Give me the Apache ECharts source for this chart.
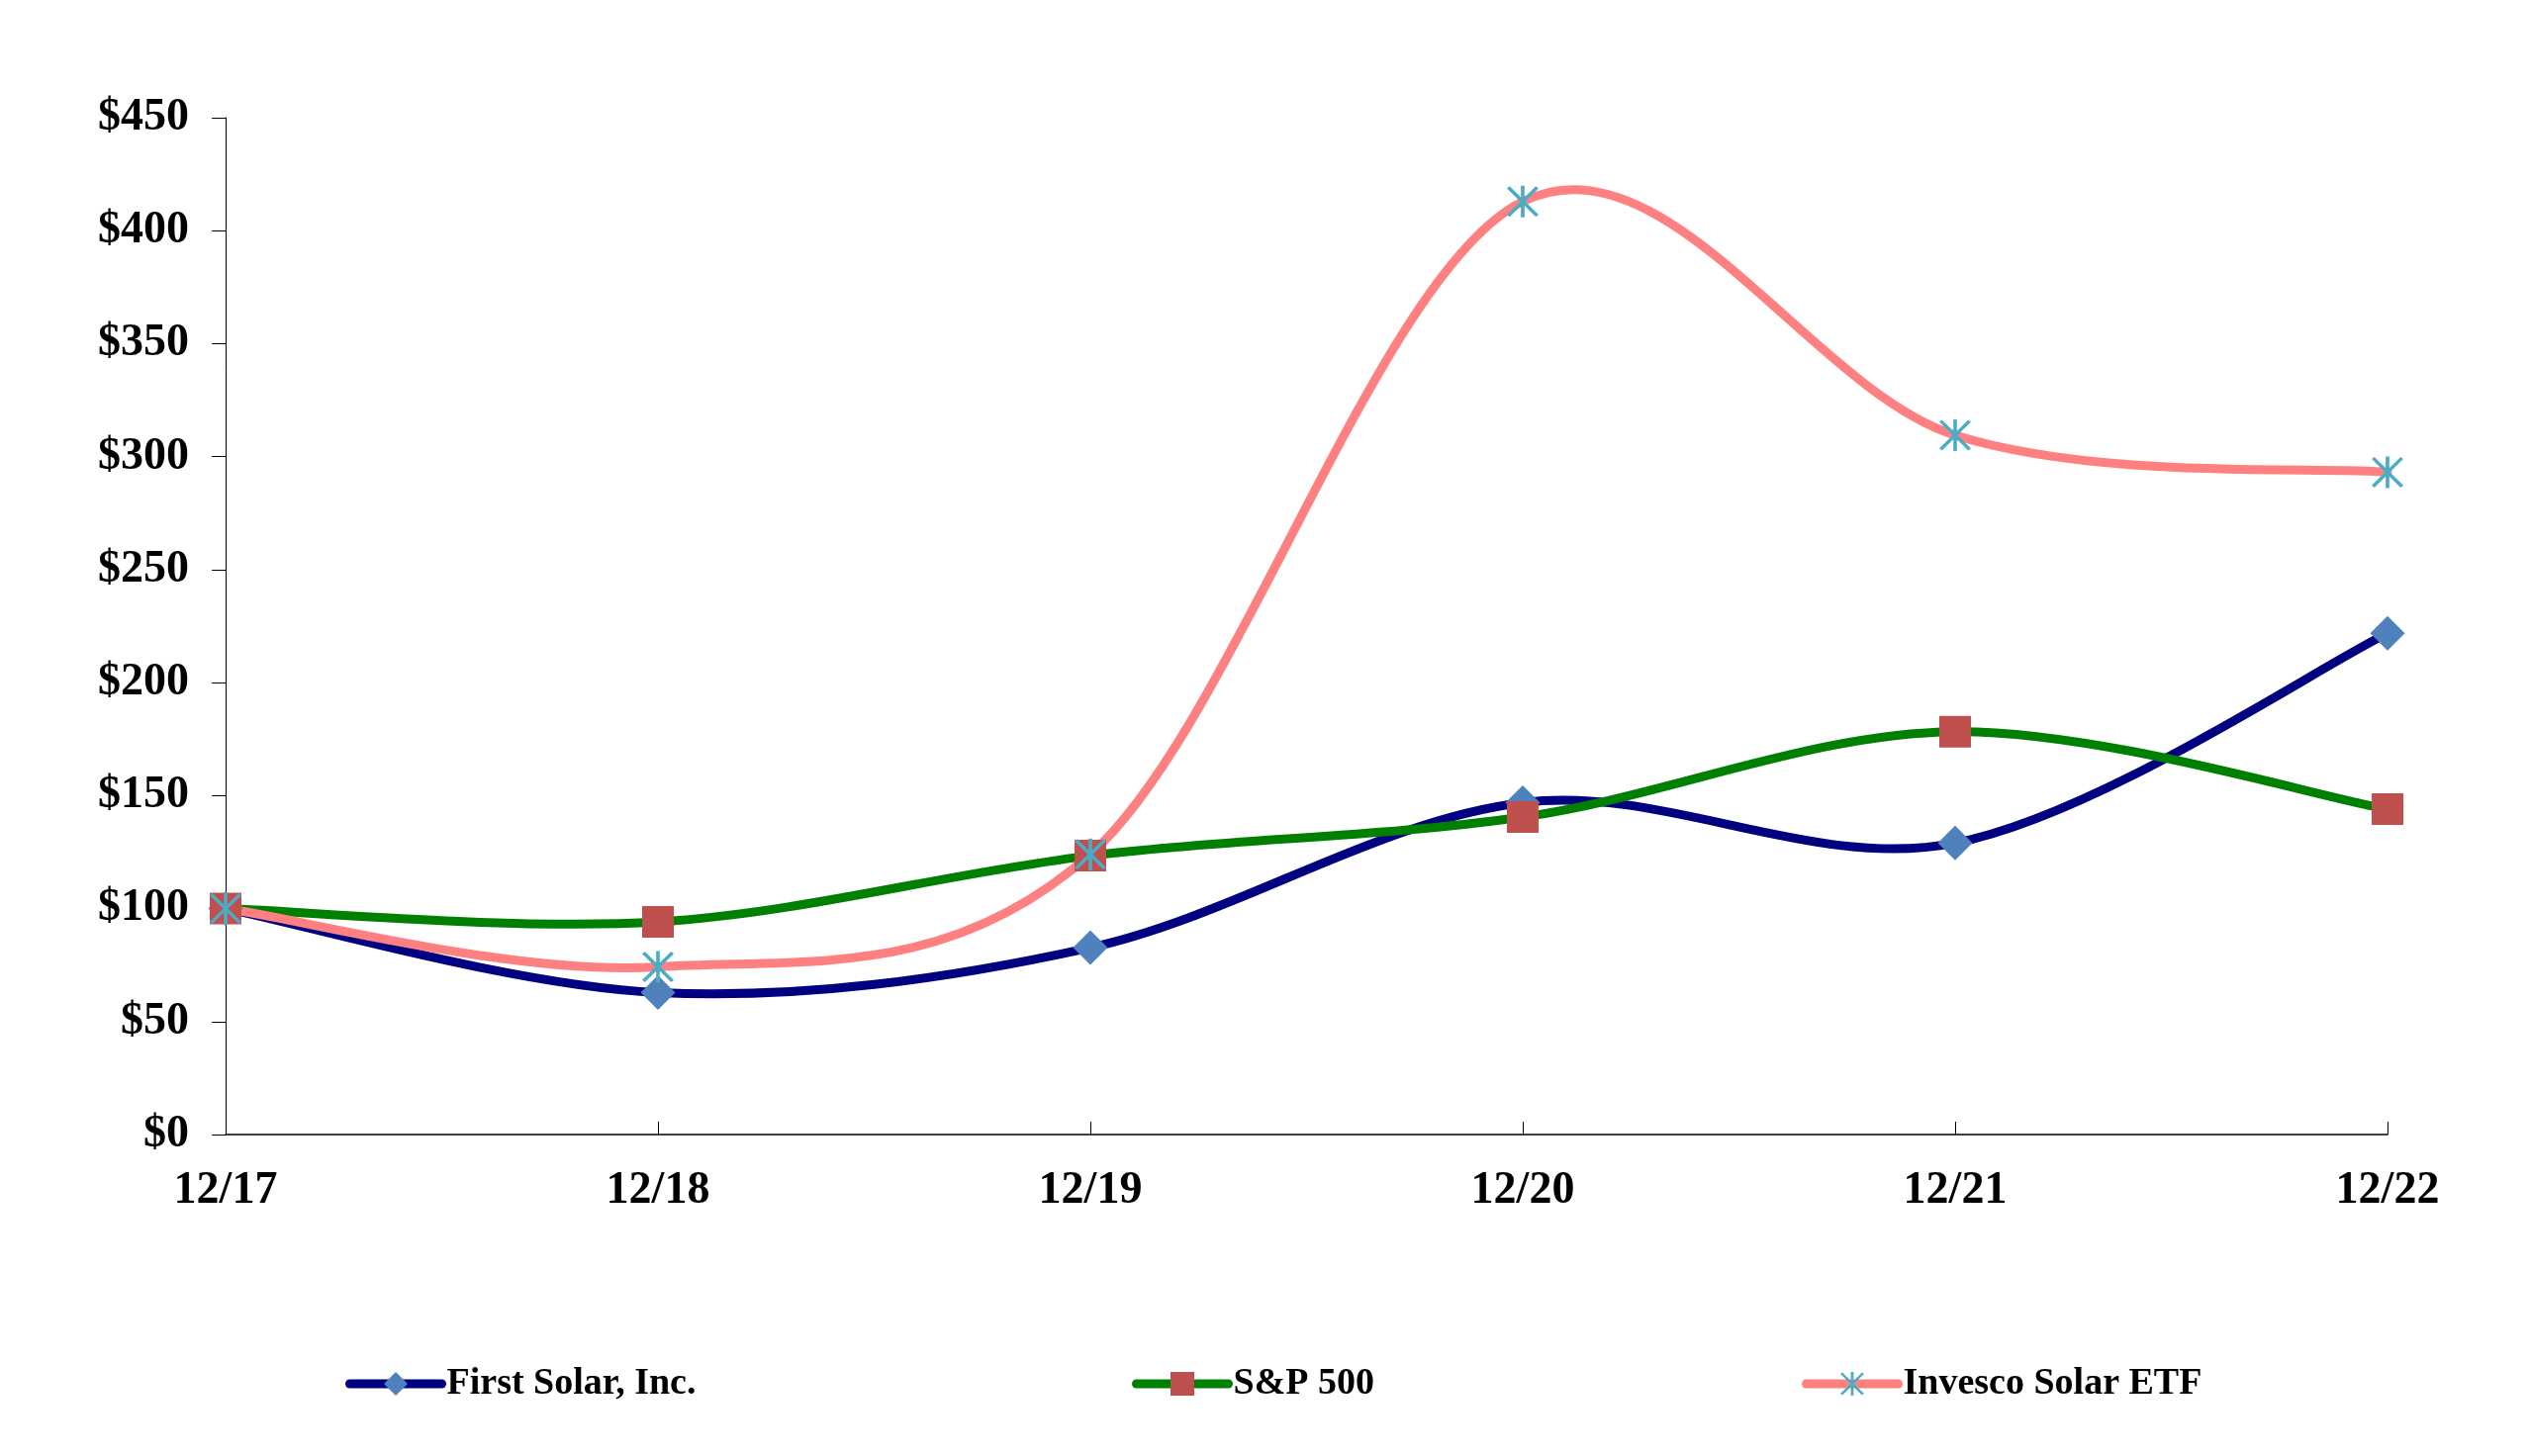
<!DOCTYPE html>
<html>
<head>
<meta charset="utf-8">
<script src="https://cdn.jsdelivr.net/npm/echarts@6/dist/echarts.min.js"></script>
<style>
html,body{margin:0;padding:0;background:#fff;}
#chart{width:2555px;height:1472px;}
</style>
</head>
<body>
<div id="chart"></div>
<script>
const categories = ['12/17', '12/18', '12/19', '12/20', '12/21', '12/22'];
const firstSolar = [100, 62.8, 82.7, 146.9, 129.0, 221.8];
const sp500 = [100, 94.1, 123.4, 140.5, 178.3, 144.0];
const invesco = [100, 74.2, 124.0, 412.9, 309.5, 293.1];
const yTicks = [0, 50, 100, 150, 200, 250, 300, 350, 400, 450];

const FONT = '"Liberation Serif", "Times New Roman", serif';
const asterisk = 'path://M9,0 L11,0 L11,20 L9,20 Z M2.75,0.34 L18.75,18.34 L17.25,19.66 L1.25,1.66 Z M18.75,1.66 L2.75,19.66 L1.25,18.34 L17.25,0.34 Z';
const LW = 9;

// Excel-style smoothed line (Catmull-Rom -> cubic Bezier), positioned via the chart's own axes
function smoothCurve(values, color) {
  return {
    type: 'custom',
    data: values.map((v, i) => [i, v]),
    encode: {x: 0, y: 1},
    clip: false,
    silent: true,
    renderItem: function (params, api) {
      if (params.dataIndex !== 0) return null;
      const p = values.map((v, i) => api.coord([i, v]));
      let d = 'M' + p[0][0] + ',' + p[0][1];
      for (let i = 0; i < p.length - 1; i++) {
        const p0 = p[i - 1] || p[i], p1 = p[i], p2 = p[i + 1], p3 = p[i + 2] || p[i + 1];
        const c1 = [p1[0] + (p2[0] - p0[0]) / 6, p1[1] + (p2[1] - p0[1]) / 6];
        const c2 = [p2[0] - (p3[0] - p1[0]) / 6, p2[1] - (p3[1] - p1[1]) / 6];
        d += ' C' + c1[0] + ',' + c1[1] + ' ' + c2[0] + ',' + c2[1] + ' ' + p2[0] + ',' + p2[1];
      }
      return {
        type: 'path',
        shape: {pathData: d},
        style: {fill: 'none', stroke: color, lineWidth: LW, lineJoin: 'round', lineCap: 'round'}
      };
    }
  };
}

const chart = echarts.init(document.getElementById('chart'));
const legendBase = {
  orient: 'horizontal',
  top: 1375,
  itemWidth: 93,
  itemHeight: 30,
  textStyle: {fontFamily: FONT, fontWeight: 'bold', fontSize: 38, color: '#000'},
  selectedMode: false
};
chart.setOption({
  animation: false,
  backgroundColor: '#fff',
  grid: {left: 228, right: 142, top: 119, bottom: 325, containLabel: false},
  legend: [
    Object.assign({}, legendBase, {left: 344, data: ['First Solar, Inc.'],
      lineStyle: {color: '#000080', width: LW, opacity: 1, cap: 'round'}}),
    Object.assign({}, legendBase, {left: 1139, data: ['S&P 500'],
      lineStyle: {color: '#008000', width: LW, opacity: 1, cap: 'round'}}),
    Object.assign({}, legendBase, {left: 1816, data: ['Invesco Solar ETF'],
      lineStyle: {color: '#FF8080', width: LW, opacity: 1, cap: 'round'}})
  ],
  xAxis: {
    type: 'category',
    data: categories,
    boundaryGap: false,
    axisLine: {lineStyle: {color: '#000', width: 1.5}},
    axisTick: {inside: true, length: 13, lineStyle: {color: '#000', width: 1}},
    axisLabel: {fontFamily: FONT, fontWeight: 'bold', fontSize: 46, color: '#000', margin: 34},
    splitLine: {show: false}
  },
  yAxis: {
    type: 'value',
    min: yTicks[0],
    max: yTicks[yTicks.length - 1],
    interval: 50,
    axisLine: {show: true, lineStyle: {color: '#000', width: 1}},
    axisTick: {show: true, inside: false, length: 14, lineStyle: {color: '#000', width: 1}},
    axisLabel: {fontFamily: FONT, fontWeight: 'bold', fontSize: 46, color: '#000', margin: 37,
      formatter: v => '$' + v},
    splitLine: {show: false}
  },
  series: [
    smoothCurve(firstSolar, '#000080'),
    {
      name: 'First Solar, Inc.', type: 'line', data: firstSolar,
      symbol: 'diamond', symbolSize: 35, showAllSymbol: true,
      lineStyle: {color: '#000080', width: LW, opacity: 0},
      itemStyle: {color: '#4F81BD'}
    },
    smoothCurve(sp500, '#008000'),
    {
      name: 'S&P 500', type: 'line', data: sp500,
      symbol: 'rect', symbolSize: 32,
      lineStyle: {color: '#008000', width: LW, opacity: 0},
      itemStyle: {color: '#C0504D'}
    },
    smoothCurve(invesco, '#FF8080'),
    {
      name: 'Invesco Solar ETF', type: 'line', data: invesco,
      symbol: asterisk, symbolSize: 32,
      lineStyle: {color: '#FF8080', width: LW, opacity: 0},
      itemStyle: {color: '#4BACC6'}
    }
  ]
});
</script>
</body>
</html>
